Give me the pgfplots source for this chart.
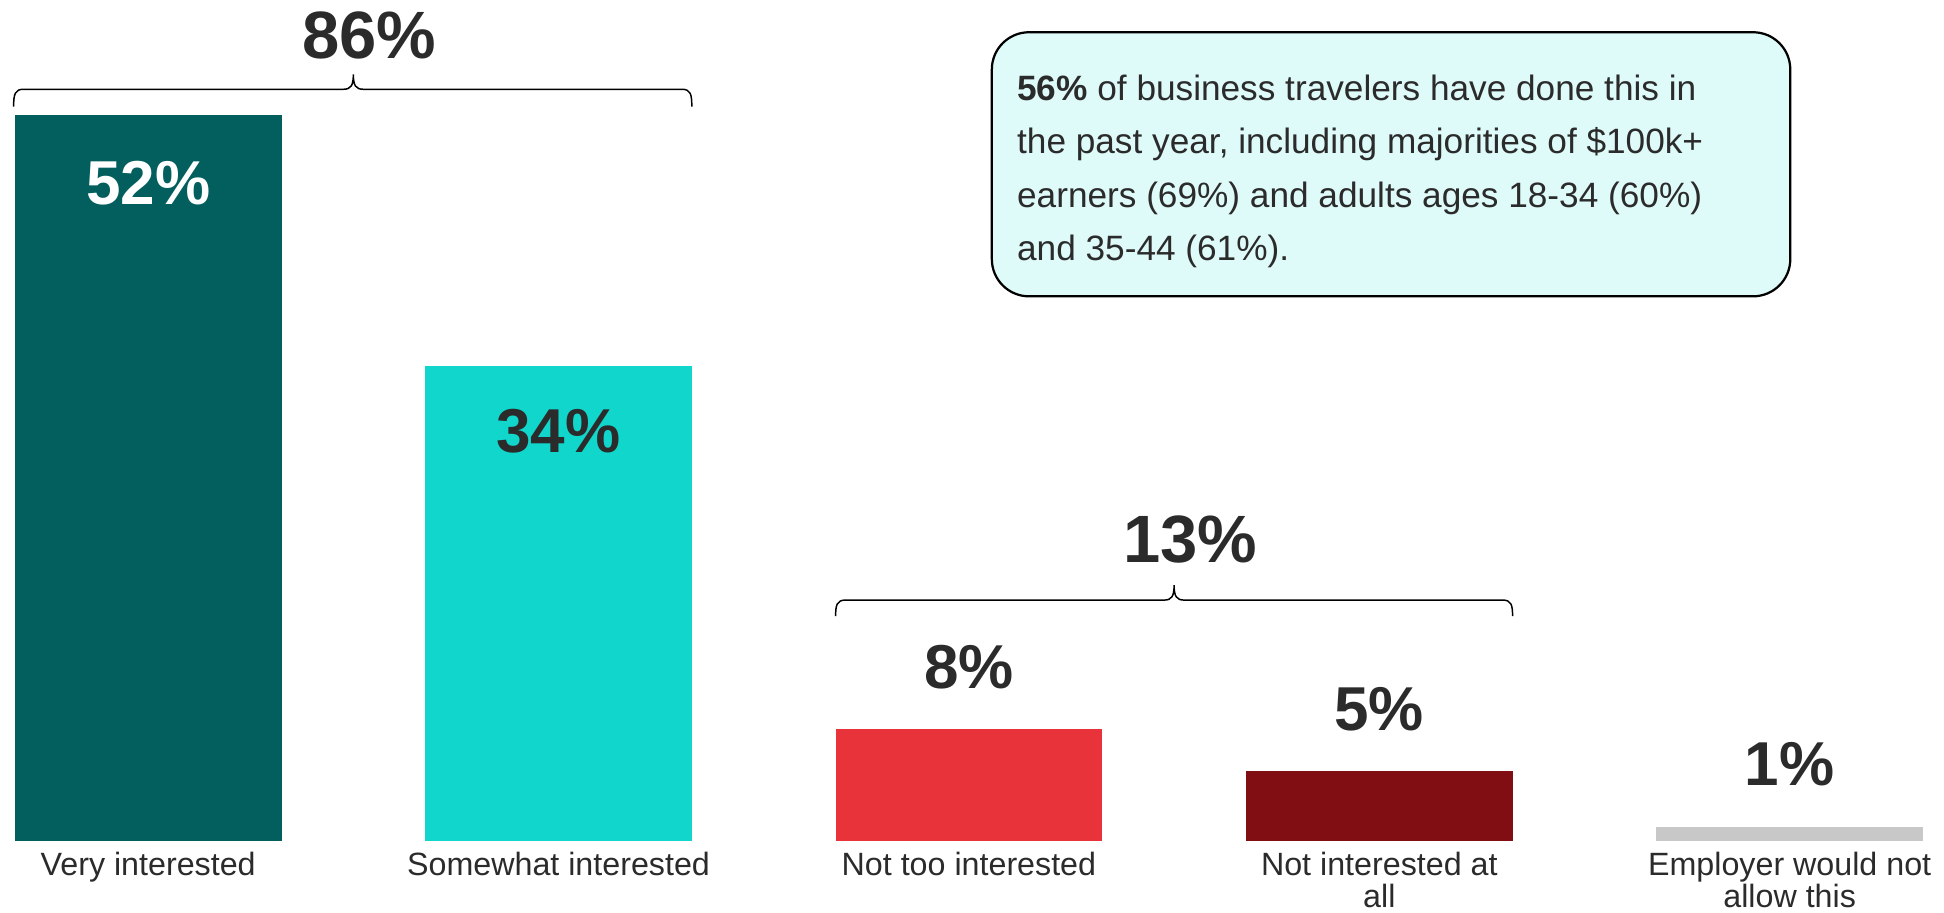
\documentclass[border=0pt]{standalone}
\usepackage{pgfplots}
\pgfplotsset{compat=1.18}
\usepackage{fontspec}
\setmainfont{Liberation Sans}
\definecolor{vint}{HTML}{035F5D}
\definecolor{sint}{HTML}{10D6CC}
\definecolor{ntoo}{HTML}{E8333A}
\definecolor{nall}{HTML}{800E12}
\definecolor{empl}{HTML}{C8C8C8}
\definecolor{txt}{HTML}{2B2B2B}
\definecolor{boxfill}{HTML}{DEFBF9}

% brace: x1, x2, xc, y of line, y of tips, y of cusp (picture px, y down)
\newcommand{\topbrace}[6]{%
  \draw[line width=0.6pt, black]
    (#1,#5) .. controls (#1,#4+4) and (#1+1,#4) .. (#1+8,#4)
    -- (#3-8,#4) .. controls (#3-2,#4) and (#3,#4-3) .. (#3,#6)
    .. controls (#3,#4-3) and (#3+2,#4) .. (#3+8,#4)
    -- (#2-8,#4) .. controls (#2-1,#4) and (#2,#4+4) .. (#2,#5);}

\begin{document}
\begin{tikzpicture}
\begin{axis}[
  width=784pt, height=339pt, scale only axis,
  ybar, bar width=0.65,
  xmin=-0.36103, xmax=4.3761,
  ymin=0, ymax=60.2667,
  axis line style={draw=none},
  ytick=\empty,
  xtick={0,1,2,3,4},
  xticklabels={Very interested, Somewhat interested, Not too interested,
    Not interested at\\all, Employer would not\\allow this},
  xticklabel style={align=center, font=\fontsize{13}{12.6}\selectfont,
    text=txt, inner sep=0pt, yshift=-4.6pt},
  major tick length=0pt,
  /pgf/number format/assume math mode=true,
  nodes near coords={\pgfmathprintnumber{\pgfplotspointmeta}\%},
  every node near coord/.append style={font=\fontsize{25}{25}\selectfont\bfseries,
    text=txt, anchor=center, yshift=25pt},
  clip=false,
]
\addplot[bar shift=0pt, fill=vint, draw=none,
  every node near coord/.append style={yshift=-52.5pt, text=white}]
  coordinates {(0,52)};
\addplot[bar shift=0pt, fill=sint, draw=none,
  every node near coord/.append style={yshift=-51pt}]
  coordinates {(1,34)};
\addplot[bar shift=0pt, fill=ntoo, draw=none] coordinates {(2,8)};
\addplot[bar shift=0pt, fill=nall, draw=none] coordinates {(3,5)};
\addplot[bar shift=0pt, fill=empl, draw=none] coordinates {(4,1)};
\end{axis}

\begin{scope}[shift={(current axis.north west)}, x=0.5pt, y=-0.5pt]
  \topbrace{11}{558}{285}{72}{86}{60}
  \topbrace{674}{1220}{947}{484}{497}{472}
  \node[anchor=base, inner sep=0pt, text=txt,
    font=\fontsize{27}{27}\selectfont\bfseries] at (298,47) {86\%};
  \node[anchor=base, inner sep=0pt, text=txt,
    font=\fontsize{27}{27}\selectfont\bfseries] at (960,454) {13\%};
  \draw[line width=0.9pt, fill=boxfill, rounded corners=15pt]
    (800,26) rectangle (1444,239);
  \begin{scope}[every node/.style={anchor=base west, inner sep=0pt, text=txt,
      font=\fontsize{14.2}{14.2}\selectfont}]
    \node at (820,81) {\textbf{56\%} of business travelers have done this in};
    \node at (820,124) {the past year, including majorities of \$100k+};
    \node at (820,167) {earners (69\%) and adults ages 18-34 (60\%)};
    \node at (820,210) {and 35-44 (61\%).};
  \end{scope}
\end{scope}
\pgfresetboundingbox
\path[use as bounding box] (current axis.north west)
  rectangle ([xshift=784pt, yshift=-368pt]current axis.north west);
\end{tikzpicture}
\end{document}
